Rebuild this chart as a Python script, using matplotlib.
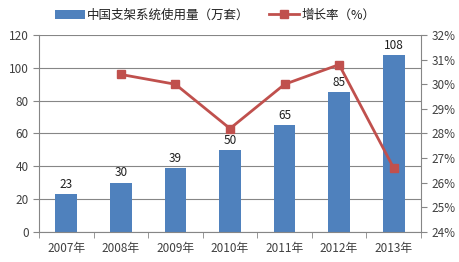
import matplotlib
matplotlib.use("Agg")
import matplotlib.pyplot as plt
import numpy as np

plt.rcParams['font.family'] = ['Noto Sans CJK SC', 'DejaVu Sans']

years = ['2007年', '2008年', '2009年', '2010年', '2011年', '2012年', '2013年']
usage = [23, 30, 39, 50, 65, 85, 108]
growth_years = ['2008年', '2009年', '2010年', '2011年', '2012年', '2013年']
growth = [30.4, 30.0, 28.2, 30.0, 30.8, 26.6]

bar_color = '#4F81BD'
line_color = '#C0504D'
text_color = '#404040'

##### Create plot #########################################
fig = plt.figure(figsize=(4.6, 2.62), dpi=100)
ax = fig.add_axes([0.085, 0.115, 0.83, 0.751])
x = np.arange(len(years))
bars = ax.bar(x, usage, width=0.4, color=bar_color, zorder=2,
              label='中国支架系统使用量（万套）')
for xi, v in zip(x, usage):
    ax.text(xi, v + 2, str(v), ha='center', va='bottom', fontsize=8.5, color='#202020')

ax.set_xlim(-0.5, len(years) - 0.5)
ax.set_ylim(0, 120)
ax.set_yticks(range(0, 121, 20))
ax.yaxis.grid(True, color='#868686', linewidth=0.8, zorder=0)
ax.set_xticks(x)
ax.set_xticklabels(years)
ax.set_xticks(np.arange(-0.5, len(years), 1), minor=True)
ax.tick_params(axis='x', which='major', length=0, pad=7, labelsize=8.5, colors=text_color)
ax.tick_params(axis='x', which='minor', length=4, color='#868686')
ax.tick_params(axis='y', length=4, color='#868686', labelsize=8.5, labelcolor=text_color)
for s in ['top', 'right']:
    ax.spines[s].set_visible(False)
for s in ['left', 'bottom']:
    ax.spines[s].set_color('#868686')

##### Growth rate on right axis ##########################
ax2 = ax.twinx()
gx = [years.index(g) for g in growth_years]
ax2.plot(gx, growth, color=line_color, linewidth=2.0, marker='s', markersize=5.5,
         label='增长率（%）', zorder=3)
ax2.set_ylim(24, 32)
ax2.set_yticks(range(24, 33))
ax2.set_yticklabels(['%d%%' % v for v in range(24, 33)])
ax2.tick_params(axis='y', length=4, color='#868686', labelsize=8.5, labelcolor=text_color)
for s in ['top', 'left', 'bottom']:
    ax2.spines[s].set_visible(False)
ax2.spines['right'].set_color('#868686')

##### Legend #############################################
handles = [bars, ax2.get_lines()[0]]
labels = ['中国支架系统使用量（万套）', '增长率（%）']
fig.legend(handles, labels, loc='upper left', bbox_to_anchor=(0.095, 1.01), ncol=2,
           frameon=False, fontsize=9, handlelength=2.4, columnspacing=1.6,
           handletextpad=0.15, labelcolor='#202020')

plt.savefig('out.png', dpi=100)
